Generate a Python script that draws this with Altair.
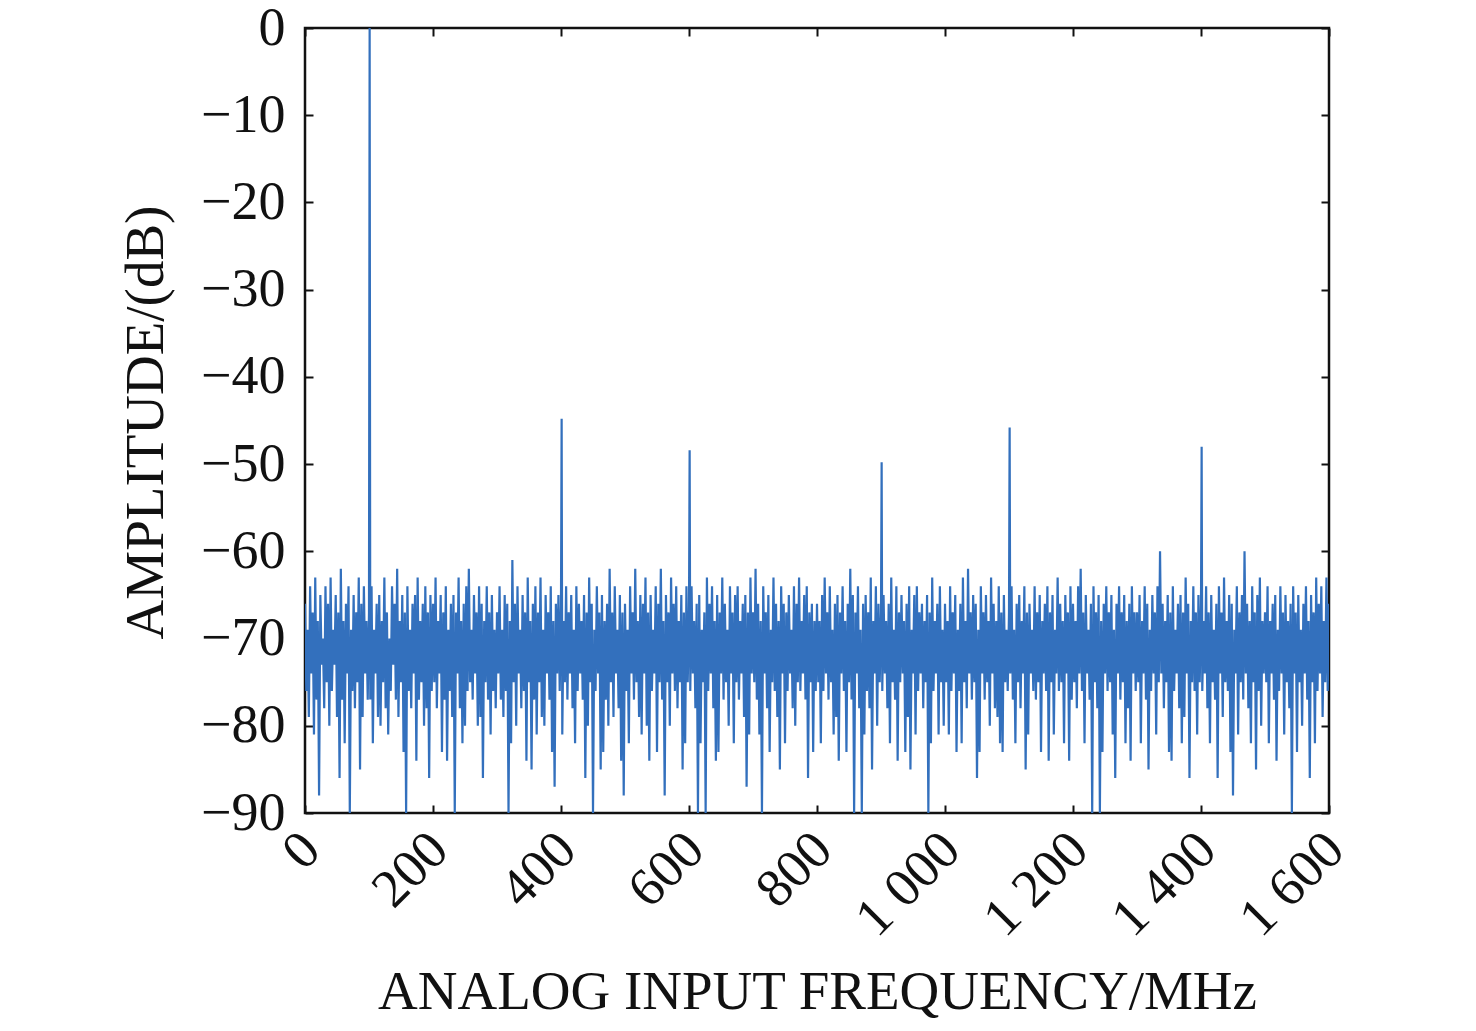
import altair as alt
import pandas as pd

# noise floor, one value every 2 MHz from 0 to 1600 MHz (dB); one line = 100 MHz (50 values)
noise_db = [
    -66, -76, -69, -79, -64, -74, -67, -81, -63, -77, -68, -88, -65, -73, -70, -78, -64, -75, -66, -80,
    -63, -76, -69, -73, -65, -79, -67, -86, -62, -77, -68, -82, -66, -74, -64, -90, -69, -76, -65, -78,
    -67, -75, -63, -85, -66, -79, -64, -74, -68, -77,
    -67, -77, -64, -82, -69, -74, -66, -79, -65, -80, -68, -75, -63, -78, -67, -81, -70, -76, -64, -73,
    -66, -77, -62, -79, -68, -75, -65, -83, -67, -90, -64, -76, -69, -78, -66, -74, -65, -84, -63, -77,
    -68, -75, -66, -80, -64, -78, -67, -86, -65, -76,
    -66, -75, -63, -78, -68, -74, -65, -83, -67, -77, -64, -84, -69, -76, -66, -79, -65, -90, -67, -74,
    -63, -78, -68, -82, -66, -80, -64, -76, -62, -75, -69, -77, -65, -74, -67, -80, -64, -79, -66, -86,
    -68, -75, -64, -77, -67, -81, -65, -76, -69, -78,
    -67, -74, -64, -77, -69, -79, -65, -76, -66, -90, -68, -82, -61, -75, -66, -80, -64, -74, -69, -78,
    -65, -76, -67, -84, -63, -75, -68, -85, -66, -77, -64, -81, -67, -75, -63, -79, -69, -80, -65, -74,
    -67, -77, -64, -83, -68, -87, -66, -74, -65, -76,
    -66, -81, -68, -75, -64, -77, -67, -74, -65, -78, -69, -82, -64, -76, -66, -74, -68, -77, -65, -86,
    -67, -80, -63, -75, -66, -90, -69, -76, -64, -74, -67, -85, -65, -83, -68, -77, -66, -80, -62, -75,
    -67, -79, -64, -74, -69, -78, -65, -84, -67, -88,
    -66, -76, -69, -82, -64, -74, -67, -77, -62, -75, -68, -79, -65, -81, -66, -74, -63, -80, -67, -84,
    -65, -76, -69, -74, -64, -83, -66, -75, -62, -77, -68, -88, -65, -75, -67, -80, -63, -74, -66, -76,
    -64, -78, -68, -75, -65, -85, -67, -82, -64, -75,
    -67, -76, -64, -74, -68, -78, -66, -90, -65, -82, -69, -75, -67, -90, -63, -76, -66, -74, -64, -78,
    -68, -84, -65, -83, -67, -74, -63, -77, -66, -75, -69, -80, -64, -74, -67, -82, -65, -75, -64, -77,
    -68, -74, -66, -79, -65, -87, -67, -81, -63, -74,
    -67, -75, -62, -77, -66, -81, -68, -90, -64, -74, -67, -78, -65, -83, -69, -75, -63, -76, -66, -79,
    -68, -85, -64, -74, -66, -82, -67, -76, -65, -74, -69, -78, -64, -80, -66, -75, -63, -76, -68, -74,
    -65, -77, -64, -86, -67, -75, -66, -83, -68, -76,
    -66, -75, -68, -82, -65, -76, -63, -74, -67, -77, -64, -75, -69, -81, -66, -79, -65, -84, -67, -74,
    -64, -76, -68, -83, -66, -75, -62, -77, -65, -90, -67, -74, -64, -78, -69, -90, -66, -81, -65, -76,
    -67, -78, -63, -85, -68, -74, -64, -80, -66, -75,
    -67, -76, -65, -74, -68, -78, -66, -82, -63, -75, -69, -77, -64, -84, -67, -75, -65, -74, -68, -83,
    -66, -79, -64, -85, -69, -74, -65, -81, -64, -76, -67, -74, -66, -78, -68, -75, -65, -90, -67, -82,
    -63, -76, -68, -74, -66, -81, -64, -75, -69, -80,
    -66, -75, -68, -81, -64, -76, -67, -74, -65, -83, -69, -76, -66, -82, -63, -75, -68, -78, -62, -74,
    -67, -77, -65, -75, -66, -86, -69, -83, -64, -74, -67, -77, -65, -75, -68, -80, -63, -74, -66, -78,
    -68, -79, -64, -82, -67, -83, -65, -75, -69, -76,
    -67, -74, -64, -77, -69, -82, -66, -75, -65, -78, -68, -74, -64, -85, -67, -81, -66, -74, -69, -76,
    -64, -77, -67, -75, -65, -83, -68, -74, -66, -76, -64, -84, -67, -75, -65, -81, -69, -74, -63, -76,
    -66, -75, -68, -82, -65, -74, -67, -84, -64, -77,
    -66, -75, -68, -78, -64, -74, -62, -76, -67, -82, -65, -74, -69, -77, -66, -90, -64, -75, -67, -78,
    -65, -90, -68, -83, -66, -74, -64, -76, -67, -75, -65, -81, -69, -86, -66, -74, -64, -77, -67, -75,
    -65, -82, -68, -78, -66, -84, -64, -74, -67, -76,
    -67, -75, -65, -82, -68, -74, -64, -77, -66, -85, -69, -76, -65, -74, -67, -81, -64, -75, -60, -74,
    -66, -78, -68, -75, -65, -83, -67, -84, -64, -76, -69, -74, -66, -78, -65, -82, -67, -79, -63, -74,
    -66, -86, -68, -75, -64, -76, -67, -81, -65, -75,
    -66, -76, -68, -74, -64, -78, -67, -82, -65, -75, -69, -77, -66, -86, -64, -74, -67, -79, -63, -75,
    -68, -76, -65, -83, -66, -88, -69, -74, -64, -81, -67, -75, -65, -77, -60, -74, -66, -78, -68, -82,
    -64, -75, -67, -85, -65, -76, -63, -80, -68, -74,
    -67, -75, -64, -82, -68, -74, -66, -77, -65, -84, -69, -76, -64, -74, -67, -81, -65, -75, -68, -78,
    -66, -90, -64, -74, -67, -83, -65, -75, -69, -80, -66, -74, -64, -77, -68, -86, -65, -75, -67, -82,
    -63, -76, -66, -74, -64, -79, -68, -75, -63, -76,
    -66,
]
noise_freq = [2 * i for i in range(len(noise_db))]

# fundamental and spurious tones
spike_freq = [101, 401, 601, 901, 1101, 1401]
spike_db = [0.0, -44.8, -48.4, -49.8, -45.8, -48.0]

x_ticks = [0, 200, 400, 600, 800, 1000, 1200, 1400, 1600]
y_ticks = [-90, -80, -70, -60, -50, -40, -30, -20, -10, 0]

df = pd.DataFrame({"f": noise_freq + spike_freq, "db": noise_db + spike_db}).sort_values("f")

FONT = "Liberation Serif"
INK = "#111111"

xscale = alt.Scale(domain=[0, 1600], nice=False, zero=False)
yscale = alt.Scale(domain=[-90, 0], nice=False, zero=False)

common_axis = dict(offset=-8, tickSize=8, domain=False, grid=False, tickColor=INK, tickWidth=2,
                   labelFont=FONT, labelFontSize=54, labelColor=INK,
                   titleFont=FONT, titleFontSize=55, titleFontWeight="normal", titleColor=INK)

line = alt.Chart(df).mark_line(color="#3370bd", strokeWidth=2.2, strokeJoin="miter",
                               strokeMiterLimit=2, clip=True).encode(
    x=alt.X("f:Q", scale=xscale, axis=alt.Axis(
        orient="bottom", values=x_ticks, labelAngle=-45, labelAlign="right",
        labelBaseline="middle", labelPadding=28, labelOffset=6,
        labelOverlap=False, labelFlush=False,
        labelExpr="replace(format(datum.value, ','), ',', ' ')",
        title="ANALOG INPUT FREQUENCY/MHz", titleX=512, titleY=203,
        titleBaseline="alphabetic", titleAlign="center", **common_axis)),
    y=alt.Y("db:Q", scale=yscale, axis=alt.Axis(
        orient="left", values=y_ticks, labelPadding=20, labelBaseline="middle",
        labelOverlap=False, labelFlush=False,
        title="AMPLITUDE/(dB)", titleX=-168, titleY=394, titleAngle=-90,
        titleBaseline="middle", titleAlign="center", **common_axis)),
)

mirror = alt.Chart(df).mark_line(opacity=0).encode(
    x=alt.X("f:Q", scale=xscale, axis=alt.Axis(
        orient="top", values=x_ticks, labels=False, title=None, offset=-8, tickSize=8,
        domain=False, grid=False, tickColor=INK, tickWidth=2)),
    y=alt.Y("db:Q", scale=yscale, axis=alt.Axis(
        orient="right", values=y_ticks, labels=False, title=None, offset=-8, tickSize=8,
        domain=False, grid=False, tickColor=INK, tickWidth=2)),
)

chart = alt.layer(line, mirror).resolve_axis(x="independent", y="independent").properties(
    width=1024, height=785,
    autosize=alt.AutoSizeParams(type="none"),
    padding={"left": 297, "top": 20, "right": 120, "bottom": 209},
    background="white",
).configure_view(stroke=INK, strokeWidth=2.5)

chart.save("out.html", embed_options={"renderer": "svg", "actions": False})
